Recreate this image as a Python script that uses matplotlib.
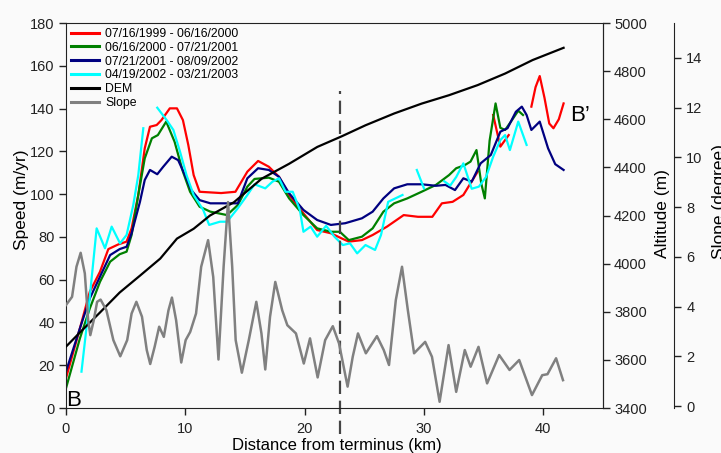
import numpy as np
import matplotlib
matplotlib.use("Agg")
import matplotlib.pyplot as plt
from matplotlib.lines import Line2D

plt.rcParams["font.family"] = ["Liberation Sans", "DejaVu Sans"]
plt.rcParams["axes.edgecolor"] = "#222222"
plt.rcParams["xtick.color"] = "#222222"
plt.rcParams["ytick.color"] = "#222222"

nan = np.nan

# speed profiles (m/yr) against distance from terminus (km)
red_km = [0, 1.17, 2.0, 2.85, 3.55, 4.39, 5.08, 5.5, 6.06, 6.6, 7.04, 7.6, 8.0, 8.7, 9.3, 9.8,
          10.25, 10.7, 11.2, 12.1, 13.0, 14.2, 15.2, 16.1, 17.0, 17.85, 18.7, 19.9, 21.05, 22.2,
          23.1, 23.7, 24.8, 25.7, 26.9, 28.3, 29.5, 30.7, 31.5, 32.4, 33.3, 34.5, nan,
          35.8, 36.4, 37.1, nan, 39.0, 39.35, 39.7, 40.1, 40.5, 40.85, 41.3, 41.7]
red_v = [13.9, 37.3, 54.4, 63.7, 74.3, 76.5, 77.8, 84, 99.6, 121.4, 131.5, 132.3, 134.6, 140.1, 140.1, 134.6,
         123, 108.9, 101.1, 100.8, 100.5, 101.1, 110.5, 115.5, 112.8, 108.1, 99.6, 91, 83.2, 81.7,
         79.3, 77.8, 78.5, 80.9, 84.8, 90.2, 89.4, 89.4, 95.7, 96.4, 99.6, 110.5, nan,
         137, 122.2, 127.6, nan, 140.9, 150, 155.2, 145, 133, 130.8, 135, 142.4]

green_km = [0, 1.17, 2.0, 2.85, 3.7, 4.5, 5.08, 5.5, 6.06, 6.6, 7.2, 7.7, 8.4, 9.1, 9.8, 10.4,
            11.2, 12.1, 13.5, 14.4, 15.2, 15.8, 17.0, 17.85, 18.7, 19.9, 21.05, 22.2, 22.95, 23.7,
            24.8, 25.7, 26.6, 27.5, 28.6, 29.8, 31.0, 32.1, 32.7, 33.4, 33.9, 34.4, 34.8, 35.1,
            35.5, 36.0, 36.4, 36.8, 37.3, 37.9, 38.3]
green_v = [9.2, 32.6, 46.6, 59, 68.4, 71.9, 73.1, 80.9, 99.6, 116.7, 126.1, 127.6, 133.9, 124.5, 110.5, 101.1,
           94.1, 91.8, 90.2, 94.9, 103.5, 107.1, 107.7, 105.8, 98, 90.2, 84, 82.4, 82.4, 78.5,
           80.1, 84, 91.8, 95.7, 98, 101.1, 104.3, 108.9, 112.1, 113.5, 115.2, 120.6, 105, 98,
           125, 142.4, 131, 130, 134, 139, 137]

blue_km = [0, 1.17, 2.0, 2.85, 3.7, 4.5, 5.08, 5.5, 6.2, 6.6, 7.04, 7.65, 8.15, 8.86, 9.4, 9.97,
           10.5, 11.2, 12.1, 14.4, 15.2, 16.1, 17.0, 17.85, 18.7, 19.9, 21.05, 22.2, 23.4, 24.8,
           25.7, 26.6, 27.5, 28.6, 29.8, 31.0, 31.8, 32.6, 33.3, 34.0, 34.75, 35.6, 36.4, 37.0,
           37.7, 38.2, 38.6, 39.0, 39.7, 40.4, 41.0, 41.7]
blue_v = [17, 37.3, 51.3, 61.4, 71.5, 74.3, 75.4, 81.7, 96.4, 106.6, 111.3, 109.3, 112.8, 117.5, 115.9, 108.9,
          101.9, 97.2, 95.7, 95.7, 107.4, 112.1, 111.3, 108.1, 100.4, 92.6, 87.9, 85.6, 86.4, 88.7,
          91.8, 98, 102.7, 104.6, 104.6, 103.9, 104.3, 101.9, 107.4, 105.8, 114.4, 118.3, 129.2, 130.8,
          138.5, 140.9, 137, 130, 133.9, 121.4, 114, 111.3]

cyan_km = [1.3, 1.87, 2.57, 3.27, 3.83, 4.53, 5.08, 5.64, 6.06, 6.48, nan,
           7.65, 8.44, 9.0, 9.56, 10.1, 10.7, 11.5, 12.0, 12.9, 13.5, 14.4, 15.2, 15.8, 16.7, 17.3,
           17.85, 18.4, 19.0, 19.6, 19.9, 20.5, 21.05, 21.8, 22.5, 23.2, 23.8, 24.4, 25.1, 25.9,
           26.4, 27.0, 27.6, 28.2, nan, 29.4, 30.0, nan,
           31.7, 32.2, 32.7, 33.3, 34.0, 34.6, 35.2, 35.8, 36.4, 36.8, 37.2, 37.9, 38.6]
cyan_v = [17, 45, 84, 74.7, 84.8, 77, 80.9, 94.9, 108.9, 130.8, nan,
          140.4, 134.6, 130, 119.8, 108.9, 99.6, 92.6, 85.6, 87.1, 87.1, 93.4, 99.6, 104.6, 102.7, 105.8,
          107.4, 101.1, 101.1, 92.6, 82.4, 84.8, 80.1, 85.2, 80.1, 76.2, 77, 72.3, 76.2, 73.9,
          80.9, 96.4, 98, 99.6, nan, 111.3, 102.7, nan,
          106, 104, 108, 114.4, 102.5, 103.5, 108, 117.5, 125.3, 127.6, 120.6, 133.9, 123]

# surface elevation (m)
dem_km = [0, 1.17, 2.85, 4.5, 6.2, 7.9, 9.3, 10.7, 12.07, 14.07, 16.4, 18.7, 21.06, 23.1,
          25.1, 27.5, 29.8, 32.1, 34.5, 36.8, 39.1, 41.7]
dem_alt = [3655, 3714, 3797, 3880, 3950, 4021, 4104, 4145, 4200, 4255, 4353, 4415, 4485, 4529,
           4575, 4624, 4665, 4700, 4742, 4790, 4846, 4897]

# surface slope (degree)
slope_km = [0.0, 0.51, 0.88, 1.23, 1.58, 1.86, 2.04, 2.33, 2.61, 2.9, 3.39, 3.97, 4.55, 5.13,
            5.5, 5.9, 6.37, 6.77, 7.06, 7.43, 7.81, 8.2, 8.59, 8.88, 9.23, 9.66, 10.03, 10.41,
            10.9, 11.33, 11.91, 12.34, 12.78, 13.21, 13.58, 13.93, 14.22, 14.74, 15.32, 15.95,
            16.38, 16.7, 17.1, 17.54, 18.12, 18.55, 19.27, 19.93, 20.45, 21.09, 21.72, 22.36,
            22.88, 23.6, 24.03, 24.47, 25.13, 26.06, 26.63, 27.07, 27.64, 28.16, 28.65, 29.17,
            30.1, 30.67, 31.31, 32.06, 32.7, 33.42, 33.91, 34.57, 35.29, 36.3, 37.17, 37.98,
            39.05, 39.91, 40.35, 41.07, 41.65]
slope_deg = [4.06, 4.39, 5.6, 6.16, 5.33, 3.45, 2.85, 3.45, 4.19, 4.28, 3.85, 2.65, 2.0, 2.65,
             3.72, 4.19, 3.59, 2.25, 1.69, 2.38, 3.19, 2.78, 3.85, 4.36, 3.45, 1.75, 2.65, 2.98,
             3.72, 5.6, 6.67, 5.19, 1.87, 5.6, 8.2, 5.6, 2.65, 1.34, 2.65, 4.19,
             2.92, 1.47, 3.59, 4.99, 3.85, 3.25, 2.92, 1.71, 2.72, 1.15, 2.65, 3.21,
             2.52, 0.78, 1.98, 2.92, 2.12, 2.81, 2.25, 1.65, 4.26, 5.6, 3.85, 2.12,
             2.58, 1.98, 0.17, 2.45, 0.57, 2.25, 1.58, 2.38, 0.91, 2.05, 1.45, 1.85,
             0.44, 1.24, 1.28, 1.92, 1.04]

labels = ["07/16/1999 - 06/16/2000", "06/16/2000 - 07/21/2001",
          "07/21/2001 - 08/09/2002", "04/19/2002 - 03/21/2003", "DEM", "Slope"]
colors = ["#ff0000", "#008000", "#000080", "#00ffff", "#000000", "#808080"]
divide_km = 23.0

bg = "#fafafa"
fig = plt.figure(figsize=(7.21, 4.53), dpi=100, facecolor=bg)
ax = fig.add_axes([0.0915, 0.0993, 0.7448, 0.8499])
ax.set_facecolor(bg)
ax2 = ax.twinx()
ax3 = ax.twinx()
ax3.spines["right"].set_position(("axes", 1.132))
for a in (ax2, ax3):
    a.patch.set_visible(False)
    for s in ("left", "top", "bottom"):
        a.spines[s].set_visible(False)

lw = 1.6
for xs, ys, c in [(red_km, red_v, colors[0]), (green_km, green_v, colors[1]),
                  (blue_km, blue_v, colors[2]), (cyan_km, cyan_v, colors[3])]:
    ax.plot(xs, ys, color=c, lw=lw, solid_joinstyle="round")
ax.plot([divide_km, divide_km], [-12, 148], color="#444444", lw=1.6,
        linestyle=(0, (6, 3)), clip_on=False)
ax2.plot(dem_km, dem_alt, color=colors[4], lw=lw, solid_joinstyle="round")
ax3.plot(slope_km, slope_deg, color=colors[5], lw=1.8, solid_joinstyle="round")

ax.set_xlim(0, 45)
ax.set_ylim(0, 180)
ax.set_xticks(np.arange(0, 41, 10))
ax.set_yticks(np.arange(0, 181, 20))
ax2.set_ylim(3400, 5000)
ax2.set_yticks(np.arange(3400, 5001, 200))
ax3.set_ylim(-0.08, 15.4)
ax3.set_yticks(np.arange(0, 15, 2))

ax.tick_params(axis="x", direction="out", length=5, width=1, pad=5, labelsize=10.5)
ax.tick_params(axis="y", direction="out", length=5, width=1, pad=3, labelsize=10.5)
ax2.tick_params(axis="y", direction="out", length=5, width=1, pad=3, labelsize=10.5)
ax3.tick_params(axis="y", direction="out", length=5, width=1, pad=4, labelsize=10.5)

ax.set_xlabel("Distance from terminus (km)", fontsize=12)
ax.xaxis.set_label_coords(0.505, -0.077)
ax.set_ylabel("Speed (m/yr)", fontsize=12.5)
ax.yaxis.set_label_coords(-0.068, 0.54)
ax2.set_ylabel("Altitude (m)", fontsize=12.5)
ax2.yaxis.set_label_coords(1.097, 0.504)
ax3.set_ylabel("Slope (degree)", fontsize=12.5)
ax3.yaxis.set_label_coords(1.203, 0.535)

ax.text(0, 0.8, "B", fontsize=16, ha="left", va="baseline")
ax.text(42.25, 134, "B\u2019", fontsize=16, ha="left", va="baseline")

handles = [Line2D([], [], color=c, lw=2.2) for c in colors]
ax.legend(handles, labels, loc="upper left", bbox_to_anchor=(0, 1), frameon=False,
          fontsize=8.8, handlelength=2.3, handletextpad=0.5, labelspacing=0.15,
          borderaxespad=0.2, borderpad=0.2)

fig.savefig("out.png", dpi=100, facecolor=bg)
